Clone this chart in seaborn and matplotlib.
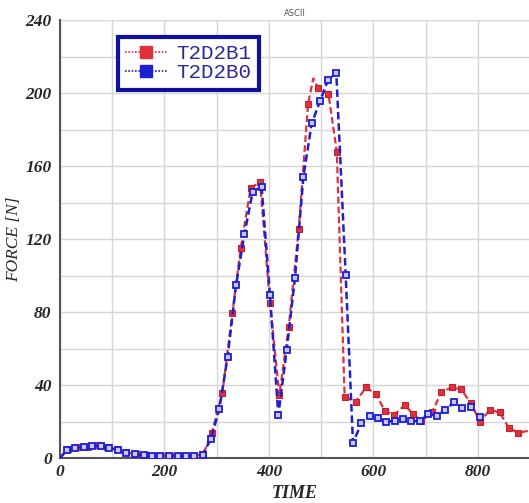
import matplotlib
matplotlib.use("Agg")
import matplotlib.pyplot as plt
from matplotlib.lines import Line2D
from matplotlib.ticker import MultipleLocator
import seaborn as sns
import pandas as pd

# ---- data ----
t_b0 = [0, 13, 29, 46, 62, 78, 94, 111, 127, 143, 160, 176, 192, 208, 225, 241, 257, 273,
        289, 305, 321, 337, 353, 369, 386, 402, 418, 434, 450, 466, 482, 498, 513, 529,
        547, 561, 577, 593, 609, 625, 641, 657, 673, 689, 705, 721, 738, 754, 770, 787, 804]
f_b0 = [0, 4.4, 5.6, 5.9, 6.6, 6.6, 5.6, 4.4, 2.9, 2.0, 1.6, 1.1, 1.0, 1.3, 1.3, 1.3, 1.3, 1.5,
        10.6, 26.7, 55.5, 94.6, 122.6, 146, 148.7, 89.3, 23.6, 59, 98.8, 154, 183.4, 195.6, 207, 211,
        100.3, 8.4, 19, 23, 21.7, 19.9, 20.4, 21.2, 20.3, 20.3, 23.9, 23.2, 26.3, 30.5, 27.6, 28.1, 22.6]

t_b1 = [0, 16, 35, 53, 72, 90, 109, 127, 146, 164, 183, 201, 220, 238, 256, 274,
        291, 311, 330, 346, 365, 383, 402, 420, 438, 457, 475, 485, 494, 514, 530,
        545, 566, 586, 605, 622, 640, 660, 676, 692, 713, 730, 750, 768, 787, 804,
        823, 842, 859, 877, 900]
f_b1 = [0, 5.0, 5.8, 6.3, 7.0, 6.0, 4.8, 3.2, 2.0, 1.5, 1.0, 0.9, 1.2, 1.2, 1.3, 2.0,
        13.9, 35.8, 79.3, 115, 147.8, 151.4, 84.8, 34.5, 72, 125.3, 194, 208, 203, 199.5, 167.8,
        33.6, 30.8, 38.7, 34.9, 25.9, 23.6, 29, 24.1, 20.3, 25.4, 36, 38.7, 37.6, 30, 19.9,
        26.3, 25, 16.6, 13.9, 15.0]

series_names = ["T2D2B1", "T2D2B0"]
x_ticks = [0, 200, 400, 600, 800]
y_ticks = [0, 40, 80, 120, 160, 200, 240]

RED = "#e0303c"
BLUE = "#1e1ed2"

df_b1 = pd.DataFrame({"TIME": t_b1, "FORCE": f_b1})
df_b0 = pd.DataFrame({"TIME": t_b0, "FORCE": f_b0})

sns.set_style("white")
fig = plt.figure(figsize=(5.29, 5.03), dpi=100)
ax = fig.add_axes([60 / 529, 45 / 503, 469 / 529, 438 / 503])

red_marks = [i for i in range(1, len(t_b1) - 1) if t_b1[i] != 485]
sns.lineplot(data=df_b1, x="TIME", y="FORCE", ax=ax, sort=False, color=RED,
             linestyle=(0, (3, 1.5)), linewidth=1.6, marker="s", markersize=4.2,
             markerfacecolor=RED, markeredgecolor="#c02030", markeredgewidth=0.8,
             markevery=red_marks, zorder=3)
sns.lineplot(data=df_b0, x="TIME", y="FORCE", ax=ax, sort=False, color=BLUE,
             linestyle=(0, (3, 1.5)), linewidth=1.8, marker="s", markersize=4.2,
             markerfacecolor="#c8c8ff", markeredgecolor=BLUE, markeredgewidth=1.3,
             markevery=list(range(1, len(t_b0))), zorder=4)

ax.set_xlim(0, 898)
ax.set_ylim(0, 240)
ax.set_xticks(x_ticks)
ax.set_yticks(y_ticks)
ax.xaxis.set_minor_locator(MultipleLocator(100))
ax.yaxis.set_minor_locator(MultipleLocator(20))
ax.grid(True, which="both", color="#d6d6d6", linewidth=1.0)
ax.set_axisbelow(True)

for side in ["top", "right"]:
    ax.spines[side].set_visible(False)
for side in ["left", "bottom"]:
    ax.spines[side].set_color("#555555")
    ax.spines[side].set_linewidth(1.5)

tick_font = dict(family="Liberation Serif", weight="bold", style="italic", size=12.5)
ax.set_xticklabels([str(v) for v in x_ticks], fontdict=tick_font)
ax.set_yticklabels([str(v) for v in y_ticks], fontdict=tick_font)
ax.tick_params(axis="y", which="major", length=4, width=1.2, color="#555555", pad=2, direction="out")
ax.tick_params(axis="x", which="major", length=0, pad=4)
ax.tick_params(which="minor", length=0)

ax.set_xlabel("TIME", fontdict=dict(family="Liberation Serif", weight="bold", style="italic", size=13))
ax.set_ylabel("FORCE [N]", fontdict=dict(family="Liberation Serif", style="italic", size=12.5))
ax.xaxis.set_label_coords(0.5, -0.062)
ax.yaxis.set_label_coords(-0.08, 0.5)
ax.set_title("ASCII", fontsize=6, color="#555555", family="DejaVu Sans", pad=3)

handles = [
    Line2D([], [], color=RED, linestyle=(0, (1, 1)), linewidth=1.2, marker="s",
           markersize=9, markerfacecolor=RED, markeredgecolor=RED),
    Line2D([], [], color=BLUE, linestyle=(0, (1, 1)), linewidth=1.2, marker="s",
           markersize=9, markerfacecolor=BLUE, markeredgecolor=BLUE),
]
leg = ax.legend(handles, series_names, loc="upper left", bbox_to_anchor=(0.124, 0.961),
                borderaxespad=0, frameon=True, fancybox=False, handlelength=2.0,
                handletextpad=0.45, labelspacing=0.0, borderpad=0.35,
                prop=dict(family="Liberation Mono", size=15))
leg.get_frame().set_edgecolor("#1010a0")
leg.get_frame().set_linewidth(3)
leg.get_frame().set_alpha(1)
for txt in leg.get_texts():
    txt.set_color("#2a2a9a")

fig.savefig("out.png", dpi=100)
